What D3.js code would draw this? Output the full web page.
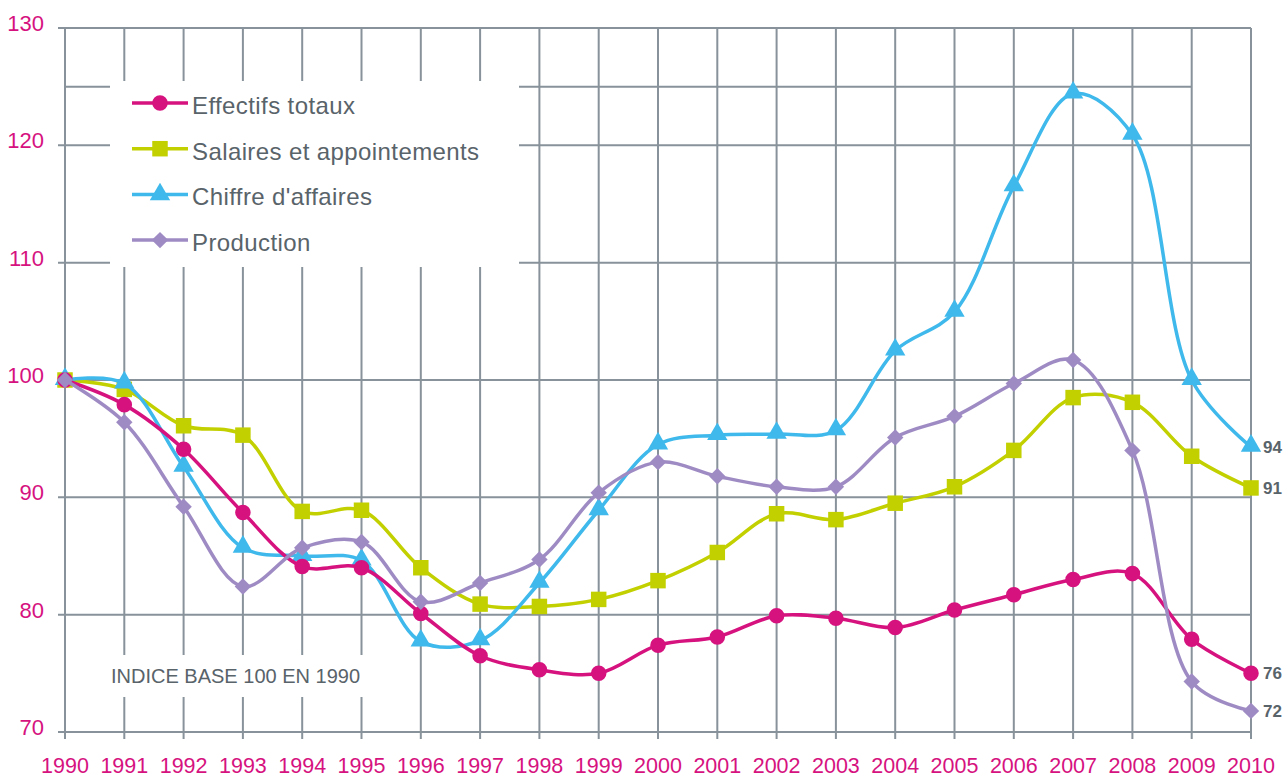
<!DOCTYPE html>
<html>
<head>
<meta charset="utf-8">
<script src="https://cdn.jsdelivr.net/npm/d3@7"></script>
<style>
  body { margin: 0; background: #fff; }
  svg { display: block; font-family: "Liberation Sans", Helvetica, Arial, sans-serif; }
</style>
</head>
<body>
<div id="chart"></div>
<script>
var width = 1288, height = 778;

// data (index, base 100 in 1990)
var years = [1990, 1991, 1992, 1993, 1994, 1995, 1996, 1997, 1998, 1999, 2000,
  2001, 2002, 2003, 2004, 2005, 2006, 2007, 2008, 2009, 2010];
var yTicks = [70, 80, 90, 100, 110, 120, 130];

var effectifs = [100, 97.9, 94.1, 88.7, 84.1, 84.0, 80.1, 76.5, 75.3, 75.0, 77.4,
  78.1, 79.9, 79.7, 78.9, 80.4, 81.7, 83.0, 83.5, 77.9, 75.0];
var salaires = [100, 99.2, 96.1, 95.3, 88.8, 88.9, 84.0, 80.9, 80.7, 81.3, 82.9,
  85.3, 88.6, 88.1, 89.5, 90.9, 94.0, 98.5, 98.1, 93.5, 90.8];
var chiffre = [100, 99.7, 92.6, 85.7, 85.0, 84.6, 77.7, 77.8, 82.7, 88.9, 94.5,
  95.3, 95.4, 95.7, 102.5, 105.8, 116.5, 124.4, 120.9, 100.0, 94.3];
var production = [100, 96.4, 89.2, 82.4, 85.7, 86.2, 81.1, 82.7, 84.7, 90.4, 93.0,
  91.8, 90.9, 90.9, 95.1, 96.9, 99.7, 101.7, 94.0, 74.3, 71.8];

var seriesNames = ["Effectifs totaux", "Salaires et appointements", "Chiffre d'affaires", "Production"];
var endLabels = ["76", "91", "94", "72"];

var colors = ["#d6127f", "#c2d000", "#3fb9eb", "#9f8bc4"];
var symbols = [d3.symbolCircle, d3.symbolSquare, d3.symbolTriangle, d3.symbolSquare];
var symSizes = [190, 240, 180, 135];
var symRotate = [0, 0, 0, 45];

var series = [effectifs, salaires, chiffre, production].map(function(vals, i) {
  return {
    name: seriesNames[i], color: colors[i], symbol: symbols[i], size: symSizes[i],
    rotate: symRotate[i], label: endLabels[i],
    values: vals.map(function(v, j) { return {year: years[j], value: v}; })
  };
});

var gridColor = "#88929a";
var pink = "#d6127f";
var textGrey = "#59636a";

var svg = d3.select("#chart")
  .append("svg")
  .attr("width", width)
  .attr("height", height);

var xScale = d3.scaleLinear()
  .domain([1990, 2010])
  .range([65, 1251]);

var yScale = d3.scaleLinear()
  .domain([70, 130])
  .range([732, 28]);

// horizontal grid
svg.append("g")
  .selectAll("line")
  .data(yTicks)
  .enter()
  .append("line")
  .attr("x1", xScale(1990) - 7)
  .attr("x2", xScale(2010))
  .attr("y1", d => yScale(d))
  .attr("y2", d => yScale(d))
  .style("stroke", gridColor)
  .style("stroke-width", 2);

// extra line at 125, stops at 2009
svg.append("line")
  .attr("x1", xScale(1990))
  .attr("x2", xScale(2009))
  .attr("y1", yScale(125))
  .attr("y2", yScale(125))
  .style("stroke", gridColor)
  .style("stroke-width", 2);

// vertical grid
svg.append("g")
  .selectAll("line")
  .data(years)
  .enter()
  .append("line")
  .attr("x1", d => xScale(d))
  .attr("x2", d => xScale(d))
  .attr("y1", yScale(130))
  .attr("y2", yScale(70) + 7)
  .style("stroke", gridColor)
  .style("stroke-width", 2);

// y labels
svg.append("g")
  .selectAll("text")
  .data(yTicks)
  .enter()
  .append("text")
  .attr("x", 44)
  .attr("y", d => yScale(d) + 3)
  .attr("text-anchor", "end")
  .style("font-size", "22px")
  .style("fill", pink)
  .text(d => d);

// x labels
svg.append("g")
  .selectAll("text")
  .data(years)
  .enter()
  .append("text")
  .attr("x", d => xScale(d))
  .attr("y", 773)
  .attr("text-anchor", "middle")
  .style("font-size", "21.5px")
  .style("fill", pink)
  .text(d => d);

// white boxes over the grid
svg.append("rect")
  .attr("x", 110).attr("y", 81)
  .attr("width", 409).attr("height", 186)
  .style("fill", "#fff");

svg.append("rect")
  .attr("x", 108).attr("y", 655)
  .attr("width", 258).attr("height", 42)
  .style("fill", "#fff");

svg.append("text")
  .attr("x", 111)
  .attr("y", 683)
  .style("font-size", "20px")
  .style("fill", textGrey)
  .text("INDICE BASE 100 EN 1990");

// lines
var line = d3.line()
  .x(d => xScale(d.year))
  .y(d => yScale(d.value))
  .curve(d3.curveCatmullRom.alpha(0.5));

var drawOrder = [1, 2, 0, 3];

drawOrder.forEach(function(i) {
  var s = series[i];
  var g = svg.append("g").attr("class", "series");
  g.append("path")
    .datum(s.values)
    .attr("d", line)
    .style("fill", "none")
    .style("stroke", s.color)
    .style("stroke-width", 3.5);
  g.selectAll(".dot")
    .data(s.values)
    .enter()
    .append("path")
    .attr("class", "dot")
    .attr("transform", d => `translate(${xScale(d.year)},${yScale(d.value) + (i == 2 ? -1 : 0)}) rotate(${s.rotate})`)
    .attr("d", d3.symbol().type(s.symbol).size(s.size))
    .style("fill", s.color);
});

// end labels
series.forEach(function(s) {
  var last = s.values[s.values.length - 1];
  svg.append("text")
    .attr("x", xScale(2010) + 12)
    .attr("y", yScale(last.value) + 6)
    .style("font-size", "17px")
    .style("font-weight", "bold")
    .style("fill", textGrey)
    .text(s.label);
});

// legend
var legend = svg.append("g");

series.forEach(function(s, i) {
  var cy = 103 + i * 45.7;
  legend.append("line")
    .attr("x1", 132).attr("x2", 188)
    .attr("y1", cy).attr("y2", cy)
    .style("stroke", s.color)
    .style("stroke-width", 3.5);
  legend.append("path")
    .attr("transform", `translate(160,${cy}) rotate(${s.rotate})`)
    .attr("d", d3.symbol().type(s.symbol).size(s.size))
    .style("fill", s.color);
  legend.append("text")
    .attr("x", 192)
    .attr("y", cy + 11)
    .style("font-size", "24px")
    .style("letter-spacing", "0.4px")
    .style("fill", textGrey)
    .text(s.name);
});
</script>
</body>
</html>
